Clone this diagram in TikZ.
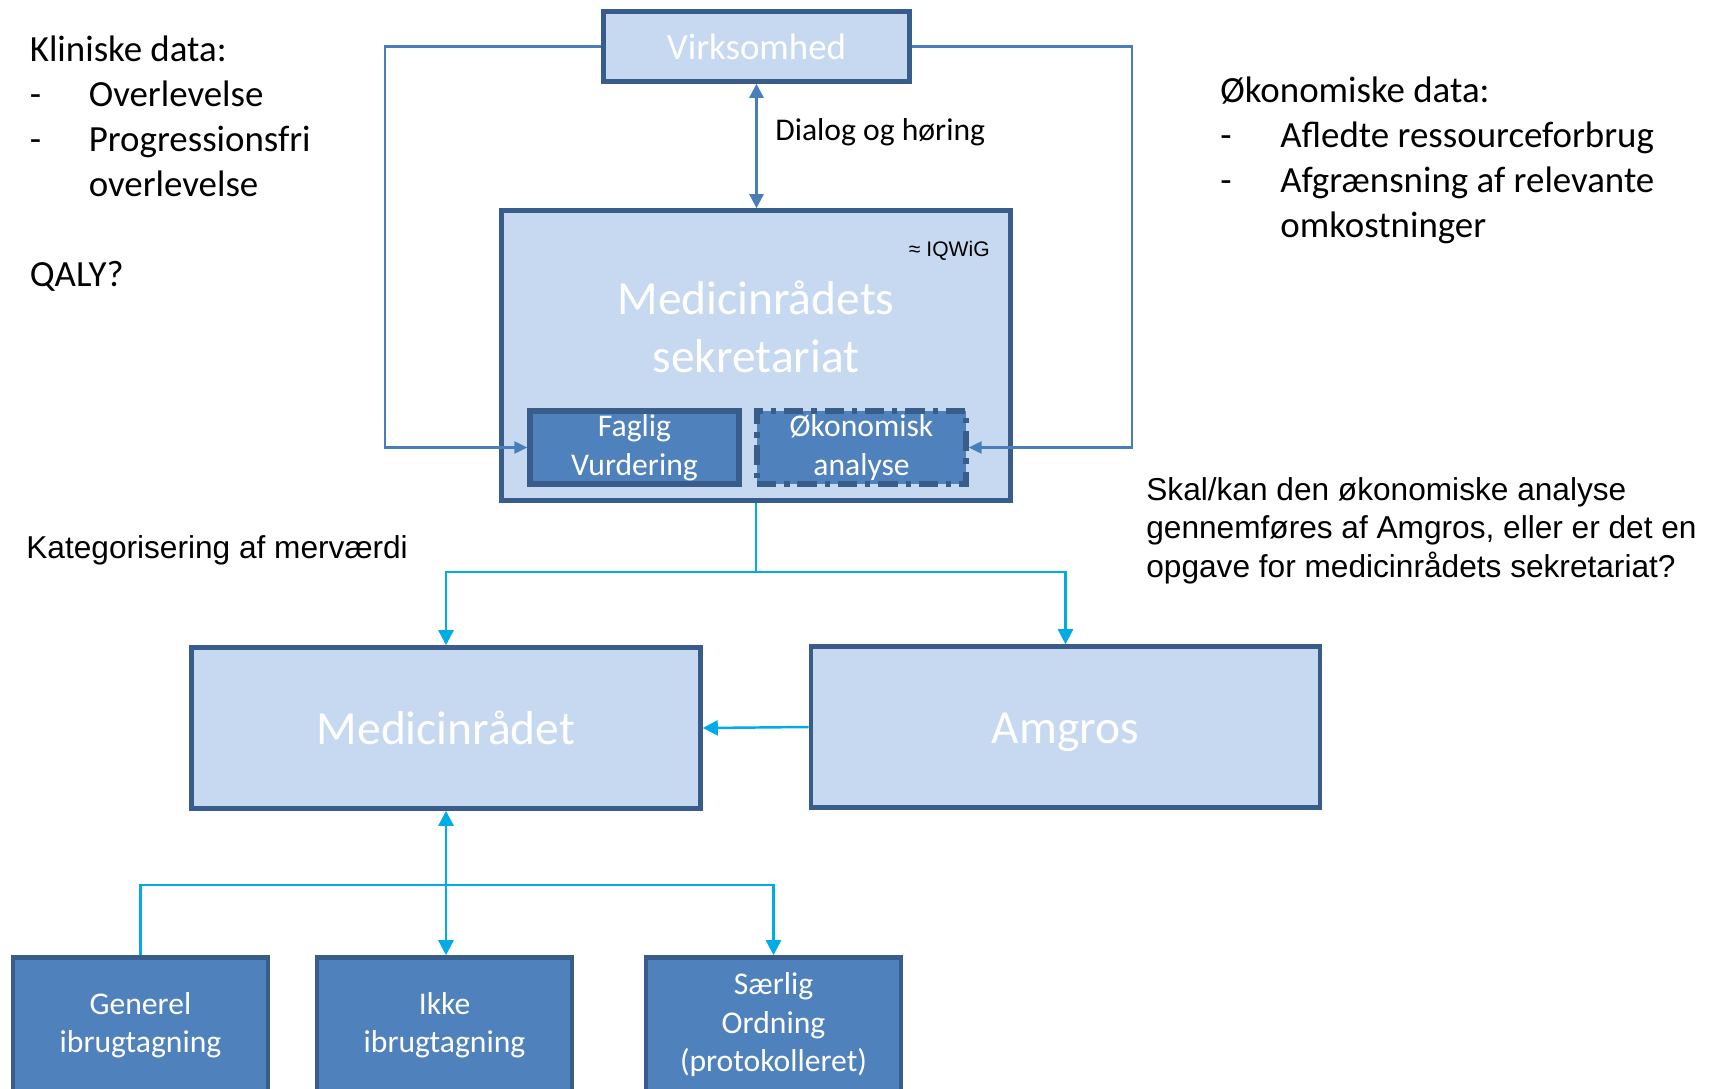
\documentclass[tikz,border=0pt]{standalone}
\usepackage{fontspec}
\setmainfont{Carlito}
\newfontfamily\arialfont{Liberation Sans}
\usetikzlibrary{positioning,arrows.meta}
\definecolor{boxfill}{RGB}{198,217,241}
\definecolor{boxedge}{RGB}{56,93,138}
\definecolor{unitfill}{RGB}{79,129,189}
\definecolor{loopblue}{RGB}{74,126,187}
\definecolor{flowcyan}{RGB}{0,172,230}

\begin{document}
\begin{tikzpicture}
[
box-a/.style={draw=boxedge, line width=2.6pt, fill=boxfill, text=white, inner sep=0pt, align=center},
box-b/.style={draw=boxedge, line width=3pt, fill=unitfill, text=white, inner sep=0pt, align=center,
              minimum width=4.18cm, minimum height=1.46cm, font=\fontsize{18pt}{21.9pt}\selectfont},
box-c/.style={draw=boxedge, line width=2.6pt, fill=unitfill, text=white, inner sep=0pt, align=center,
              minimum width=5.1cm, minimum height=2.7cm, font=\fontsize{18pt}{21.9pt}\selectfont},
text-a/.style={inner sep=0pt, align=left, font=\fontsize{21pt}{25.6pt}\selectfont},
text-b/.style={inner sep=0pt, align=left, font=\arialfont\fontsize{18pt}{21.9pt}\selectfont},
line-a/.style={draw=loopblue, line width=1.2pt, -{Triangle[width=0.24cm, length=0.26cm]}},
line-b/.style={draw=flowcyan, line width=1.4pt},
tip-b/.style={-{Triangle[width=0.3cm, length=0.3cm]}}
]
\path[use as bounding box] (0,0) rectangle (34.38,-21.76);
\clip (0,0) rectangle (34.38,-21.76);

% upper part
\node (virk)  [box-a, minimum width=6.12cm, minimum height=1.4cm, font=\fontsize{21pt}{25.6pt}\selectfont] at (15.13,-0.93) {Virksomhed};
\node (sekr)  [box-a, minimum width=10.18cm, minimum height=5.8cm] at (15.12,-7.11) {};
\node (sekr-txt) [text=white, inner sep=0pt, align=center, font=\fontsize{27pt}{33pt}\selectfont] at (15.12,-6.54) {Medicinrådets\\sekretariat};
\node (iqwig) [inner sep=0pt, anchor=east, font=\arialfont\fontsize{12pt}{14pt}\selectfont] at (19.8,-5.02) {≈ IQWiG};
\node (faglig) [box-b] at (12.69,-8.95) {Faglig\\Vurdering};
\node (okon)   [box-b, dash pattern=on 11pt off 4.5pt on 3pt off 4.5pt] at (17.23,-8.95) {Økonomisk\\analyse};
\node (dialog) [inner sep=0pt, anchor=west, font=\fontsize{18pt}{21.9pt}\selectfont] at (15.5,-2.64) {Dialog og høring};

% middle part
\node (medr)   [box-a, minimum width=10.18cm, minimum height=3.22cm, text height=19pt, text depth=0pt, font=\fontsize{27pt}{33pt}\selectfont] at (8.92,-14.56) {Medicinrådet};
\node (amgros) [box-a, minimum width=10.18cm, minimum height=3.22cm, text height=19pt, text depth=0pt, font=\fontsize{27pt}{33pt}\selectfont] at (21.31,-14.54) {Amgros};

% lower part
\node (gen)  [box-c] at (2.81,-20.5) {Generel\\ibrugtagning};
\node (ikke) [box-c] at (8.89,-20.5) {Ikke\\ibrugtagning};
\node (saer) [box-c] at (15.47,-20.5) {Særlig\\Ordning\\(protokolleret)};

% side texts
\node (klin) [text-a, anchor=base west] at (0.59,-5.72)
  {Kliniske data:\\\makebox[1.18cm][l]{-}Overlevelse\\\makebox[1.18cm][l]{-}Progressionsfri\\\hspace*{1.18cm}overlevelse\\[25.6pt]QALY?};
\node (okdata) [text-a, anchor=base west] at (24.4,-4.74)
  {Økonomiske data:\\\makebox[1.2cm][l]{-}Afledte ressourceforbrug\\\makebox[1.2cm][l]{-}Afgrænsning af relevante\\\hspace*{1.2cm}omkostninger};
\node (kat)  [text-b, anchor=base west] at (0.52,-11.16) {Kategorisering af merværdi};
\node (skal) [text-b, anchor=base west] at (22.92,-11.54)
  {Skal/kan den økonomiske analyse\\gennemføres af Amgros, eller er det en\\opgave for medicinrådets sekretariat?};

% connectors
\coordinate (loop-l) at (7.7,0);
\coordinate (loop-r) at (22.64,0);
\coordinate (split-1) at (15.12,-11.44);
\coordinate (split-2) at (8.92,-17.7);

\draw [line-a] (virk.west) -- (virk.west -| loop-l) |- (faglig.west);
\draw [line-a] (virk.east) -- (virk.east -| loop-r) |- (okon.east);
\draw [draw=loopblue, line width=1.4pt, {Triangle[width=0.28cm, length=0.28cm]}-{Triangle[width=0.28cm, length=0.28cm]}]
  (virk.south) -- (virk.south |- sekr.north);

\draw [line-b] (sekr.south) -- (split-1);
\draw [line-b, tip-b] (split-1) -| (medr.north);
\draw [line-b, tip-b] (split-1) -| (amgros.north);
\draw [line-b, tip-b] (amgros.west) -- (medr.east);

\draw [line-b, {Triangle[width=0.3cm, length=0.3cm]}-{Triangle[width=0.3cm, length=0.3cm]}] (medr.south) -- (medr.south |- ikke.north);
\draw [line-b, tip-b] (gen.north) |- (split-2) -| (saer.north);
\end{tikzpicture}
\end{document}
